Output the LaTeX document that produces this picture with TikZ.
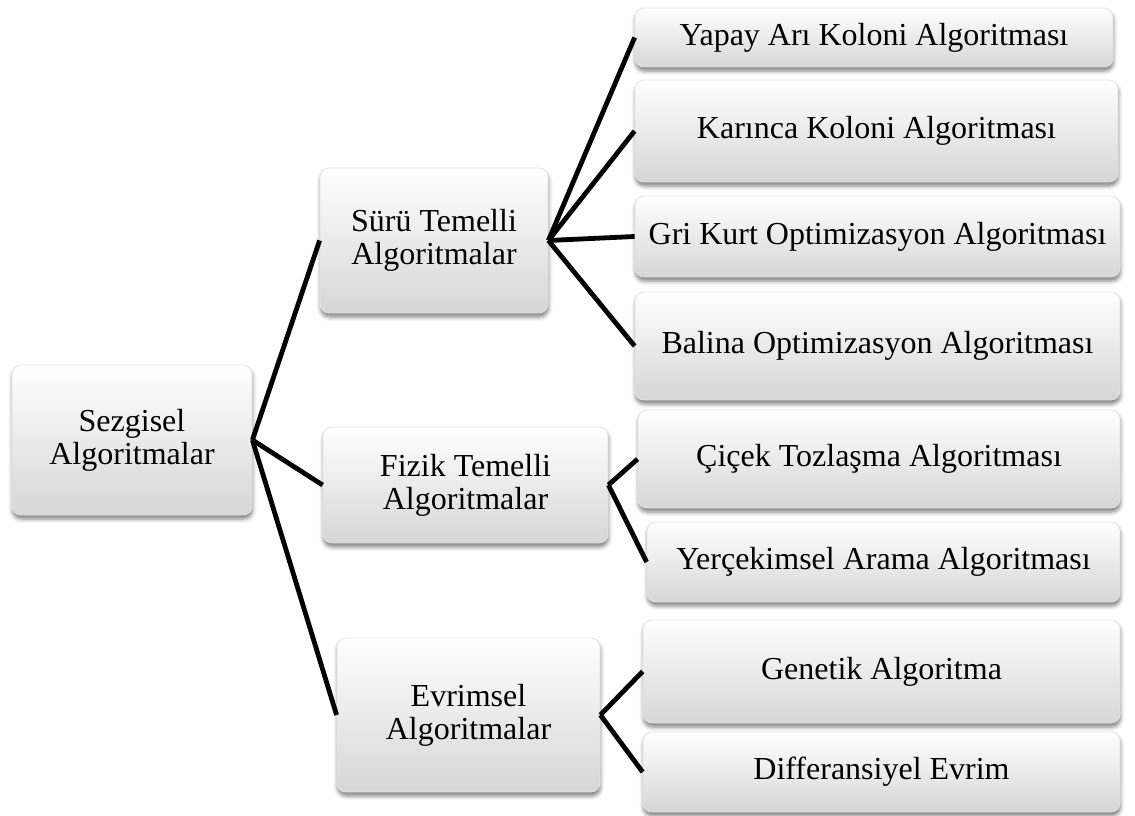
\documentclass[tikz,border=0pt]{standalone}
\usepackage{fontspec}
\setmainfont{Liberation Serif}
\usetikzlibrary{shadows.blur}
\begin{document}
\begin{tikzpicture}[x=1pt,y=-1pt,
  box/.style={rectangle, rounded corners=9pt, draw=gray!22, line width=0.8pt,
    top color=white, bottom color=gray!32, inner sep=0pt, align=center,
    font=\fontsize{32}{33}\selectfont,
    blur shadow={shadow xshift=0.5pt, shadow yshift=-4pt, shadow blur radius=4pt, shadow opacity=50}},
  link/.style={line width=4.8pt, black}]
\useasboundingbox (0,0) rectangle (1135,816);
% level 0
\node[box, minimum width=240pt, minimum height=150pt] (root) at (132,440) {Sezgisel\\Algoritmalar};
% level 1
\node[box, minimum width=228pt, minimum height=145pt] (suru) at (434,240.5) {Sürü Temelli\\Algoritmalar};
\node[box, minimum width=285pt, minimum height=116pt] (fizik) at (465.5,485) {Fizik Temelli\\Algoritmalar};
\node[box, minimum width=263pt, minimum height=154pt] (evrim) at (468.5,715) {Evrimsel\\Algoritmalar};
% level 2
\node[box, minimum width=478pt, minimum height=59pt] (yapay) at (874,37.5) {Yapay Arı Koloni Algoritması};
\node[box, minimum width=483pt, minimum height=102pt] (karinca) at (876.5,131) {Karınca Koloni Algoritması};
\node[box, minimum width=485pt, minimum height=81pt] (gri) at (877.5,236.5) {Gri Kurt Optimizasyon Algoritması};
\node[box, minimum width=485pt, minimum height=108pt] (balina) at (877.5,346) {Balina Optimizasyon Algoritması};
\node[box, minimum width=482pt, minimum height=98pt] (cicek) at (879,459) {Çiçek Tozlaşma Algoritması};
\node[box, minimum width=473pt, minimum height=80pt] (yercek) at (883.5,562) {Yerçekimsel Arama Algoritması};
\node[box, minimum width=477pt, minimum height=103pt] (genetik) at (881.5,671.5) {Genetik Algoritma};
\node[box, minimum width=477pt, minimum height=80pt] (diff) at (881.5,772) {Differansiyel Evrim};
% connectors
\draw[link] (root.east) -- (suru.west);
\draw[link] (root.east) -- (fizik.west);
\draw[link] (root.east) -- (evrim.west);
\draw[link] (suru.east) -- (yapay.west);
\draw[link] (suru.east) -- (karinca.west);
\draw[link] (suru.east) -- (gri.west);
\draw[link] (suru.east) -- (balina.west);
\draw[link] (fizik.east) -- (cicek.west);
\draw[link] (fizik.east) -- (yercek.west);
\draw[link] (evrim.east) -- (genetik.west);
\draw[link] (evrim.east) -- (diff.west);
\end{tikzpicture}
\end{document}
